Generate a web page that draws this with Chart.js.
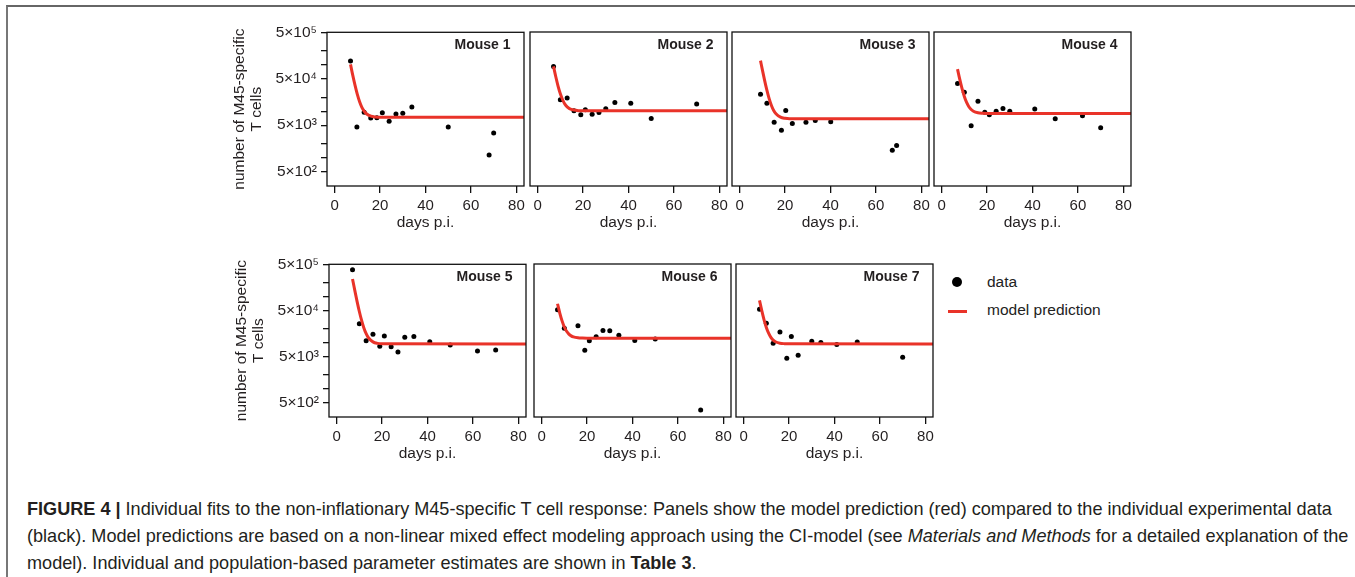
<!DOCTYPE html>
<html>
<head>
<meta charset="utf-8">
<script src="https://cdn.jsdelivr.net/npm/chart.js@4.4.1/dist/chart.umd.min.js"></script>
<style>
  body { margin:0; background:#fff; width:1355px; height:577px; overflow:hidden; position:relative; font-family:"Liberation Sans", Arial, sans-serif; }
  canvas { position:absolute; }
  #frame { position:absolute; left:6px; top:5px; right:-10px; bottom:-10px; border-top:2px solid #666; border-left:2px solid #777; }
  .lg { position:absolute; font-size:15.5px; color:#222; line-height:18px; }
  #caption { position:absolute; left:27px; top:496px; font-size:18.1px; line-height:27px; color:#231f20; white-space:nowrap; }
</style>
</head>
<body>
<div id="frame"></div>
<div style="position:absolute;left:952px;top:277px;width:10px;height:10px;border-radius:50%;background:#000"></div>
<div class="lg" style="left:987px;top:273px">data</div>
<div style="position:absolute;left:948px;top:309.5px;width:19px;height:3px;background:rgb(233,51,41)"></div>
<div class="lg" style="left:987px;top:301px">model prediction</div>
<div id="caption"><b>FIGURE 4 |</b> Individual fits to the non-inflationary M45-specific T cell response: Panels show the model prediction (red) compared to the individual experimental data<br>(black). Model predictions are based on a non-linear mixed effect modeling approach using the CI-model (see <i>Materials and Methods</i> for a detailed explanation of the<br>model). Individual and population-based parameter estimates are shown in <b>Table 3</b>.</div>
<script>
// ---- data (days p.i. / number of cells) ----
const M1_DAYS  = [7, 9.8, 13, 15.9, 18.6, 21, 24, 27, 30, 34, 50, 68, 70];
const M1_CELLS = [121000, 4570, 9460, 7150, 7260, 9300, 6050, 8700, 9000, 12300, 4570, 1140, 3400];
const M2_DAYS  = [7, 10, 13, 16, 19, 21, 24, 27, 30, 34, 41, 50, 70];
const M2_CELLS = [91200, 17500, 19000, 10100, 8300, 10600, 8570, 9300, 11200, 15300, 14800, 6920, 14100];
const M3_DAYS  = [9.2, 12, 15.2, 18.4, 20.3, 23.2, 29.2, 33.3, 40.1, 67.2, 69.1];
const M3_CELLS = [23100, 14800, 5770, 3870, 10300, 5400, 5770, 6270, 5870, 1440, 1810];
const M4_DAYS  = [7, 10, 13, 16, 19, 21, 24, 27, 30, 41, 50, 62, 70];
const M4_CELLS = [39200, 25500, 4810, 16300, 9460, 8300, 9950, 11400, 9950, 11000, 6800, 7890, 4350];
const M5_DAYS  = [7, 10, 13, 16, 19, 21, 24, 27, 30, 34, 41, 50, 62, 70];
const M5_CELLS = [383000, 25800, 11000, 15200, 8320, 14000, 8180, 6270, 13100, 13700, 10500, 8890, 6590, 6930];
const M6_DAYS  = [7, 10, 16, 19, 21, 24, 27, 30, 34, 41, 50, 70];
const M6_CELLS = [51100, 20500, 23000, 6810, 10900, 13300, 18200, 17900, 14400, 11000, 12000, 346];
const M7_DAYS  = [7, 10, 13, 16, 19, 21, 24, 30, 34, 41, 50, 70];
const M7_CELLS = [52800, 26200, 9660, 17000, 4570, 13500, 5310, 10700, 10000, 9040, 10300, 4810];

// model prediction curves (red), read at these days
const FIT_DAYS  = [7, 8, 9, 10, 11, 12, 13, 14, 16, 18, 20, 83.35];
const FIT3_DAYS = [9.2, 10, 11, 12, 13, 14, 15, 16, 18, 20, 22, 83.35];
const FIT1 = [102000, 59000, 36000, 23000, 16000, 12100, 10000, 8800, 7800, 7500, 7420, 7380];
const FIT2 = [91000, 54600, 34500, 23500, 17500, 14100, 12300, 11300, 10500, 10200, 10130, 10100];
const FIT3 = [121000, 77500, 45600, 28100, 18500, 13200, 10300, 8730, 7380, 6980, 6850, 6800];
const FIT4 = [79800, 47800, 30200, 20600, 15300, 12400, 10800, 9930, 9180, 8960, 8890, 8860];
const FIT5 = [240000, 136000, 78800, 47400, 30300, 20900, 15700, 12800, 10400, 9660, 9450, 9350];
const FIT6 = [69000, 43500, 29400, 21700, 17500, 15200, 13950, 13250, 12650, 12480, 12420, 12400];
const FIT7 = [81500, 49000, 31000, 21250, 15900, 12900, 11300, 10400, 9680, 9450, 9380, 9350];

const X_TICKS = [0, 20, 40, 60, 80];
const Y_TICKS = [500000, 200000, 100000, 50000, 20000, 10000, 5000, 2000, 1000, 500];
const Y_LABELS = { 500000: '5×10⁵', 50000: '5×10⁴', 5000: '5×10³', 500: '5×10²' };

const RED = 'rgb(233,51,41)';
Chart.defaults.font.family = '"Liberation Sans", Arial, sans-serif';
Chart.defaults.color = '#222';

const pts = (xs, ys) => xs.map((x, i) => ({ x: x, y: ys[i] }));

// box around plot area + "Mouse n" label
const boxPlugin = {
  id: 'box',
  afterDraw(chart) {
    const { ctx, chartArea: a } = chart;
    ctx.save();
    ctx.strokeStyle = '#111';
    ctx.lineWidth = 1.3;
    ctx.strokeRect(a.left, a.top, a.right - a.left, a.bottom - a.top);
    ctx.font = 'bold 14px "Liberation Sans", Arial, sans-serif';
    ctx.fillStyle = '#231f20';
    ctx.textAlign = 'right';
    ctx.textBaseline = 'middle';
    ctx.fillText(chart.options.plugins.box.label, a.right - 13.5, a.top + 13);
    ctx.restore();
  }
};

function panel(label, days, cells, fitDays, fit, bx, by, bh, showY) {
  const padL = showY ? 100 : 6, padT = 12, padR = 8, axisH = 50, bw = 197;
  const cv = document.createElement('canvas');
  cv.width = padL + bw + padR;
  cv.height = padT + bh + axisH;
  document.body.appendChild(cv);
  const chart = new Chart(cv, {
    type: 'scatter',
    data: {
      datasets: [
        { data: pts(fitDays, fit), showLine: true, borderColor: RED, borderWidth: 3,
          pointRadius: 0, cubicInterpolationMode: 'monotone', fill: false, order: 0 },
        { data: pts(days, cells), backgroundColor: '#000', borderWidth: 0, pointRadius: 2.5, order: 1 }
      ]
    },
    plugins: [boxPlugin],
    options: {
      responsive: false, maintainAspectRatio: false, animation: false,
      layout: { padding: { left: showY ? 0 : padL, top: padT, right: padR, bottom: 0 } },
      plugins: { legend: { display: false }, tooltip: { enabled: false }, box: { label: label } },
      scales: {
        x: {
          type: 'linear', min: -3.35, max: 83.35, bounds: 'data',
          afterBuildTicks: s => { s.ticks = X_TICKS.map(v => ({ value: v })); },
          afterFit: s => { s.height = axisH; },
          grid: { drawOnChartArea: false, drawTicks: true, tickLength: 7, color: '#111', lineWidth: 1.3 },
          border: { display: false },
          ticks: { autoSkip: false, maxRotation: 0, padding: 4, color: '#231f20', font: { size: 15 } },
          title: { display: true, text: 'days p.i.', color: '#231f20', font: { size: 15.5 }, padding: { top: 0, bottom: 4 } }
        },
        y: {
          type: 'logarithmic', min: 245, max: 500000, bounds: 'data', display: showY,
          afterBuildTicks: s => { s.ticks = Y_TICKS.map(v => ({ value: v })); },
          afterFit: s => { s.width = padL; },
          grid: { drawOnChartArea: false, drawTicks: true, tickLength: 6, color: '#111', lineWidth: 1.3 },
          border: { display: false },
          ticks: { autoSkip: false, padding: 4, color: '#231f20', font: { size: 15.5 },
                   callback: v => Y_LABELS[v] || '' },
          title: { display: true, text: ['number of M45-specific', 'T cells'], color: '#231f20',
                   font: { size: 15.5, lineHeight: 1.1 }, padding: { top: 4, bottom: 0 } }
        }
      }
    }
  });
  // make the plot box exactly bw x bh, then put its corner where the figure has it
  let a = chart.chartArea;
  const dw = bw - (a.right - a.left), dh = bh - (a.bottom - a.top);
  if (Math.abs(dw) > 0.2 || Math.abs(dh) > 0.2) {
    chart.resize(Math.round(chart.width + dw), Math.round(chart.height + dh));
    a = chart.chartArea;
  }
  cv.style.left = (bx - a.left) + 'px';
  cv.style.top = (by - a.top) + 'px';
}

panel('Mouse 1', M1_DAYS, M1_CELLS, FIT_DAYS, FIT1, 327, 32, 154, true);
panel('Mouse 2', M2_DAYS, M2_CELLS, FIT_DAYS, FIT2, 529.5, 32, 154, false);
panel('Mouse 3', M3_DAYS, M3_CELLS, FIT3_DAYS, FIT3, 731.5, 32, 154, false);
panel('Mouse 4', M4_DAYS, M4_CELLS, FIT_DAYS, FIT4, 934, 32, 154, false);
panel('Mouse 5', M5_DAYS, M5_CELLS, FIT_DAYS, FIT5, 329, 264, 153, true);
panel('Mouse 6', M6_DAYS, M6_CELLS, FIT_DAYS, FIT6, 533.5, 264, 153, false);
panel('Mouse 7', M7_DAYS, M7_CELLS, FIT_DAYS, FIT7, 736, 264, 153, false);
</script>
</body>
</html>
